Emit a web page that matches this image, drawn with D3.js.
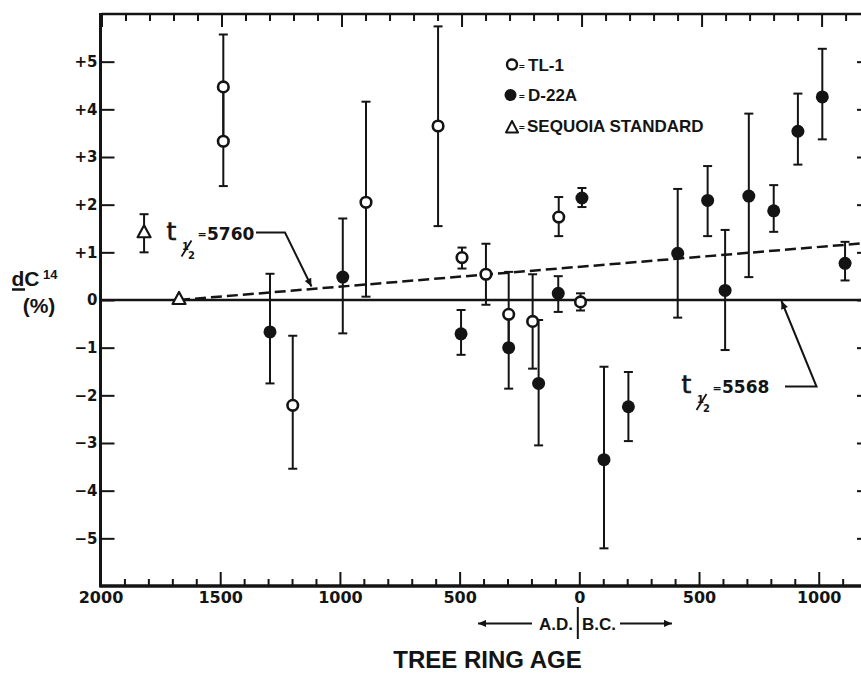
<!DOCTYPE html>
<html><head><meta charset="utf-8">
<script src="https://cdn.jsdelivr.net/npm/d3@7"></script>
<style>
body{margin:0;background:#fff;}
svg{display:block;}
text{fill:#141414;}
</style></head><body>
<svg id="c" width="861" height="674"></svg>
<script>
// ---- data (years: A.D. positive, B.C. negative) ----
const tlYears    = [1487, 1487, 1197, 891, 590, 490, 390, 295, 195, 86, -5];
const tlValues   = [4.47, 3.33, -2.21, 2.05, 3.65, 0.89, 0.54, -0.30, -0.45, 1.74, -0.04];
const tlErrUp    = [1.10, 1.14, 1.46, 2.11, 2.09, 0.21, 0.64, 0.89, 0.99, 0.42, 0.18];
const tlErrDown  = [1.14, 0.94, 1.33, 1.98, 2.10, 0.23, 0.64, 0.70, 0.99, 0.40, 0.18];

const dYears     = [1292, 988, 494, 295, 170, 88, -11, -103, -205, -411, -536, -609, -708, -812, -913, -1015, -1110];
const dValues    = [-0.67, 0.48, -0.71, -1.00, -1.75, 0.14, 2.14, -3.35, -2.24, 0.98, 2.09, 0.20, 2.18, 1.87, 3.54, 4.26, 0.77];
const dErrUp     = [1.22, 1.23, 0.50, 0.70, 1.33, 0.36, 0.21, 1.95, 0.73, 1.35, 0.72, 1.27, 1.73, 0.54, 0.79, 1.01, 0.45];
const dErrDown   = [1.08, 1.18, 0.44, 0.86, 1.30, 0.39, 0.19, 1.86, 0.72, 1.35, 0.75, 1.25, 1.70, 0.44, 0.70, 0.89, 0.36];

const sqYears    = [1818, 1672];
const sqValues   = [1.40, 0];
const sqErr      = [0.40, 0];

const halfLife5760Years  = [1672, -1210];
const halfLife5760Values = [0, 1.2];
const halfLife5568Years  = [2000, -1210];
const halfLife5568Values = [0, 0];

const xMajorTicks  = [2000, 1500, 1000, 500, 0, -500, -1000];
const xMajorLabels = ["2000", "1500", "1000", "500", "0", "500", "1000"];
const xMinorTicks  = [1900,1800,1700,1600,1400,1300,1200,1100,900,800,700,600,400,300,200,100,-100,-200,-300,-400,-600,-700,-800,-900,-1100,-1200];
const yTicks       = [5, 4, 3, 2, 1, 0, -1, -2, -3, -4, -5];
const yLabels      = ["+5", "+4", "+3", "+2", "+1", "0", "\u22121", "\u22122", "\u22123", "\u22124", "\u22125"];

const legendLabels = ["TL-1", "D-22A", "SEQUOIA STANDARD"];

// ---- drawing ----
const INK = "#141414";
const svg = d3.select("#c");
const x = d3.scaleLinear().domain([2000, -1210]).range([100.5, 869]);
const xTop = d3.scaleLinear().domain([2000, -1210]).range([101.5, 872]);
const y = d3.scaleLinear().domain([-6, 6]).range([586, 14]);

const defs = svg.append("defs");
defs.append("marker").attr("id", "arr").attr("viewBox", "0 0 10 10")
  .attr("refX", 10).attr("refY", 5).attr("markerUnits", "userSpaceOnUse")
  .attr("markerWidth", 17).attr("markerHeight", 8).attr("orient", "auto")
  .append("path").attr("d", "M0,0.5 L10,5 L0,9.5 Z").attr("fill", INK);

function styleAxis(g, fontSize) {
  g.select(".domain").remove();
  g.selectAll(".tick line").attr("stroke", INK).attr("stroke-width", 2);
  g.selectAll(".tick text").attr("font-family", "DejaVu Sans").attr("font-weight", "bold")
    .attr("font-size", fontSize).attr("fill", INK);
}

// bottom axis
svg.append("g").attr("transform", "translate(0,586)")
  .call(d3.axisBottom(x).tickValues(xMinorTicks).tickSize(-7).tickFormat(""))
  .call(g => styleAxis(g, 16));
svg.append("g").attr("transform", "translate(0,586)")
  .call(d3.axisBottom(x).tickValues(xMajorTicks).tickSize(-14).tickPadding(6)
    .tickFormat((d, i) => xMajorLabels[i]))
  .call(g => styleAxis(g, 16));
// top axis
svg.append("g").attr("transform", "translate(0,14)")
  .call(d3.axisTop(xTop).tickValues(xMinorTicks).tickSize(-7).tickFormat(""))
  .call(g => styleAxis(g, 16));
svg.append("g").attr("transform", "translate(0,14)")
  .call(d3.axisTop(xTop).tickValues(xMajorTicks).tickSize(-13).tickFormat(""))
  .call(g => styleAxis(g, 16));
// left axis
svg.append("g").attr("transform", "translate(100.5,0)")
  .call(d3.axisLeft(y).tickValues(yTicks).tickSize(-14).tickPadding(3)
    .tickFormat((d, i) => yLabels[i]))
  .call(g => styleAxis(g, 15));
// right axis (mostly off-canvas)
svg.append("g").attr("transform", "translate(871,0)")
  .call(d3.axisRight(y).tickValues(yTicks).tickSize(-14).tickFormat(""))
  .call(g => styleAxis(g, 15));

// frame lines
svg.append("line").attr("x1", 100.5).attr("x2", 871).attr("y1", 586).attr("y2", 586)
  .attr("stroke", INK).attr("stroke-width", 3.5);
svg.append("line").attr("x1", 101.5).attr("x2", 871).attr("y1", 14).attr("y2", 14)
  .attr("stroke", INK).attr("stroke-width", 2.5);
svg.append("line").attr("x1", 100.5).attr("x2", 100.5).attr("y1", 13).attr("y2", 587.5)
  .attr("stroke", INK).attr("stroke-width", 3);

// reference lines
const lineGen = d3.line().x(d => x(d[0])).y(d => y(d[1]));
svg.append("path").datum(halfLife5568Years.map((v, i) => [v, halfLife5568Values[i]]))
  .attr("d", lineGen).attr("fill", "none").attr("stroke", INK).attr("stroke-width", 2.5);
svg.append("path").datum(halfLife5760Years.map((v, i) => [v, halfLife5760Values[i]]))
  .attr("d", lineGen).attr("fill", "none").attr("stroke", INK).attr("stroke-width", 2.5)
  .attr("stroke-dasharray", "11,5");

// error bars
function errorBars(years, values, up, down) {
  const g = svg.append("g").attr("stroke", INK).attr("stroke-width", 2);
  years.forEach((yr, i) => {
    if (up[i] === 0 && down[i] === 0) return;
    const cx = x(yr), top = y(values[i] + up[i]), bot = y(values[i] - down[i]);
    g.append("line").attr("x1", cx).attr("x2", cx).attr("y1", top).attr("y2", bot);
    g.append("line").attr("x1", cx - 4.5).attr("x2", cx + 4.5).attr("y1", top).attr("y2", top);
    g.append("line").attr("x1", cx - 4.5).attr("x2", cx + 4.5).attr("y1", bot).attr("y2", bot);
  });
}
errorBars(tlYears, tlValues, tlErrUp, tlErrDown);
errorBars(dYears, dValues, dErrUp, dErrDown);
errorBars(sqYears, sqValues, sqErr, sqErr);

// points
svg.append("g").selectAll("circle").data(dYears).join("circle")
  .attr("cx", d => x(d)).attr("cy", (d, i) => y(dValues[i])).attr("r", 6.5).attr("fill", INK);
svg.append("g").selectAll("circle").data(tlYears).join("circle")
  .attr("cx", d => x(d)).attr("cy", (d, i) => y(tlValues[i])).attr("r", 5.3)
  .attr("fill", "#fff").attr("stroke", INK).attr("stroke-width", 2.6);
const tri = "M0,-7 L6.5,5 L-6.5,5 Z";
svg.append("g").selectAll("path").data(sqYears).join("path")
  .attr("transform", (d, i) => `translate(${x(d)},${y(sqValues[i]) - 1})`)
  .attr("d", tri).attr("fill", "#fff").attr("stroke", INK).attr("stroke-width", 2.2)
  .attr("stroke-linejoin", "round");

// half-life annotations
function halfLifeLabel(tx, by, value, path) {
  const g = svg.append("g");
  g.append("text").attr("x", tx).attr("y", by).attr("font-family", "DejaVu Sans")
    .attr("font-size", 25).attr("stroke", INK).attr("stroke-width", 0.6).text("t");
  g.append("text").attr("x", tx + 15.5).attr("y", by + 10).attr("font-family", "DejaVu Sans")
    .attr("font-weight", "bold").attr("font-size", 10).text("1");
  g.append("line").attr("x1", tx + 15).attr("y1", by + 17).attr("x2", tx + 25).attr("y2", by + 1)
    .attr("stroke", INK).attr("stroke-width", 1.8);
  g.append("text").attr("x", tx + 21.5).attr("y", by + 19).attr("font-family", "DejaVu Sans")
    .attr("font-weight", "bold").attr("font-size", 10).text("2");
  g.append("text").attr("x", tx + 31).attr("y", by - 1.5).attr("font-family", "DejaVu Sans")
    .attr("font-weight", "bold").attr("font-size", 11).text("=");
  g.append("text").attr("x", tx + 40.5).attr("y", by).attr("font-family", "DejaVu Sans")
    .attr("font-weight", "bold").attr("font-size", 17).text(value);
  g.append("path").attr("d", path).attr("fill", "none").attr("stroke", INK)
    .attr("stroke-width", 2).attr("marker-end", "url(#arr)");
}
halfLifeLabel(166.5, 239.5, "5760", "M256,232.5 L285,232.5 L311.5,286.5");
halfLifeLabel(681.5, 393, "5568", "M785,386.5 L816.5,386.5 L781.5,301");

// legend
const lg = svg.append("g");
lg.append("circle").attr("cx", 512).attr("cy", 64.5).attr("r", 5).attr("fill", "#fff")
  .attr("stroke", INK).attr("stroke-width", 2.4);
lg.append("circle").attr("cx", 510.5).attr("cy", 95).attr("r", 6).attr("fill", INK);
lg.append("path").attr("transform", "translate(512,127.5)").attr("d", "M0,-6.5 L6,5 L-6,5 Z")
  .attr("fill", "#fff").attr("stroke", INK).attr("stroke-width", 2).attr("stroke-linejoin", "round");
[70.5, 101, 132].forEach((by, i) => {
  lg.append("text").attr("x", 518.5).attr("y", by - 2).attr("font-family", "DejaVu Sans")
    .attr("font-weight", "bold").attr("font-size", 8).text("=");
  lg.append("text").attr("x", i === 2 ? 527 : 528).attr("y", by).attr("font-family", "Liberation Sans")
    .attr("font-weight", "bold").attr("font-size", 17).text(legendLabels[i]);
});

// y-axis title
const yt = svg.append("g").attr("font-family", "Liberation Sans").attr("font-weight", "bold");
yt.append("text").attr("x", 11.5).attr("y", 286).attr("font-size", 21).text("dC");
yt.append("text").attr("x", 43).attr("y", 279).attr("font-size", 13).text("14");
yt.append("line").attr("x1", 12).attr("x2", 25).attr("y1", 289.5).attr("y2", 289.5)
  .attr("stroke", INK).attr("stroke-width", 2.5);
yt.append("text").attr("x", 39).attr("y", 313).attr("text-anchor", "middle").attr("font-size", 21).text("(%)");

// A.D. | B.C. marker
const ab = svg.append("g");
ab.append("line").attr("x1", 532).attr("x2", 478).attr("y1", 623.5).attr("y2", 623.5)
  .attr("stroke", INK).attr("stroke-width", 2).attr("marker-end", "url(#arr)");
ab.append("line").attr("x1", 620).attr("x2", 672).attr("y1", 623.5).attr("y2", 623.5)
  .attr("stroke", INK).attr("stroke-width", 2).attr("marker-end", "url(#arr)");
ab.append("line").attr("x1", x(0) - 1.5).attr("x2", x(0) - 1.5).attr("y1", 607).attr("y2", 639)
  .attr("stroke", INK).attr("stroke-width", 2);
ab.append("text").attr("x", 573).attr("y", 630).attr("text-anchor", "end")
  .attr("font-family", "Liberation Sans").attr("font-weight", "bold").attr("font-size", 17).text("A.D.");
ab.append("text").attr("x", 582).attr("y", 630)
  .attr("font-family", "Liberation Sans").attr("font-weight", "bold").attr("font-size", 17).text("B.C.");

// x-axis title
svg.append("text").attr("x", 487.5).attr("y", 668).attr("text-anchor", "middle")
  .attr("font-family", "Liberation Sans").attr("font-weight", "bold").attr("font-size", 24)
  .text("TREE RING AGE");
</script>
</body></html>
